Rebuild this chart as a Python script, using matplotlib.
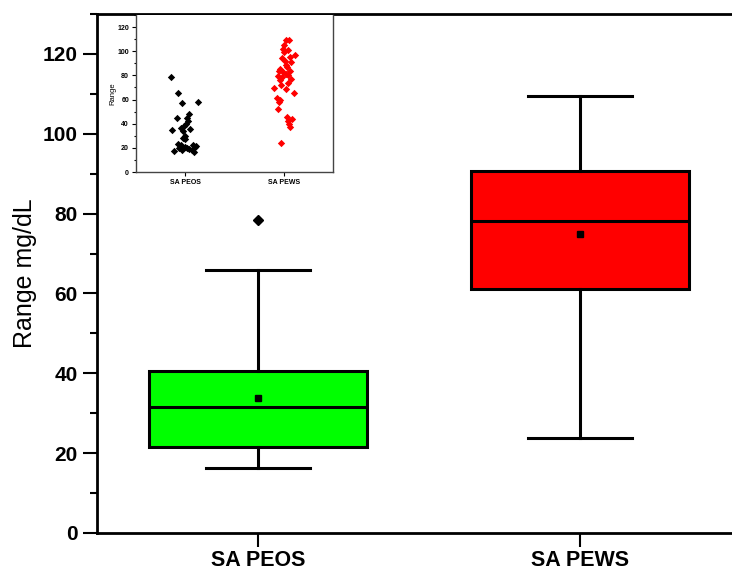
import numpy as np
import matplotlib
matplotlib.use("Agg")
import matplotlib.pyplot as plt
from matplotlib.ticker import MultipleLocator

plt.rcParams['font.family'] = ['Liberation Sans', 'DejaVu Sans']

GROUPS = ["SA PEOS", "SA PEWS"]
BOX_COLORS = ["#00ff00", "#ff0000"]
DOT_COLORS = ["black", "red"]

# box statistics
Q1 = [21.5, 61.2]
MED = [31.6, 78.2]
Q3 = [40.7, 90.6]
WLO = [16.4, 23.7]
WHI = [65.8, 109.4]
MEANS = [33.9, 75.0]
OUTLIERS = [[78.4], []]

# inset scatter points (x position, value)
peos_x = [0.86, 0.93, 0.97, 1.13, 1.04, 1.02, 0.92, 1.03, 1.01, 0.99, 0.96, 1.05, 0.87, 0.98, 1.00,
          0.98, 1.00, 0.93, 0.96, 1.00, 1.08, 1.11, 1.10, 0.94, 1.04, 0.89, 1.07, 1.09, 0.97, 1.02]
peos_y = [78.4, 65.6, 56.8, 58.2, 48.1, 45.0, 44.5, 42.0, 40.0, 38.0, 36.5, 36.0, 34.9, 34.0, 30.0,
          28.0, 27.0, 23.0, 22.5, 21.0, 22.0, 21.5, 20.6, 20.0, 19.0, 17.8, 18.0, 16.4, 18.5, 20.0]
pews_x = [2.02, 2.05, 1.99, 2.11, 1.98, 2.06, 2.00, 2.02, 1.96, 2.06, 1.94, 1.98, 2.07, 2.04, 2.02,
          1.90, 2.10, 1.93, 1.95, 1.94, 2.03, 2.08, 2.05, 2.06, 1.97, 1.96, 1.99, 2.03, 1.95, 2.04,
          2.01, 2.07, 1.97, 2.00, 2.04, 1.96, 2.04, 2.02]
pews_y = [109.4, 109.0, 102.0, 97.0, 94.7, 95.3, 99.0, 89.0, 85.0, 84.0, 79.6, 78.3, 77.0, 74.0, 68.7,
          69.2, 65.0, 61.0, 57.7, 52.2, 45.3, 44.0, 40.0, 37.6, 23.9, 76.0, 82.4, 87.0, 84.0, 80.0,
          92.0, 91.0, 72.0, 105.0, 101.0, 60.0, 42.0, 81.0]

fig = plt.figure(figsize=(7.32, 5.72), dpi=100)
ax = fig.add_axes([0.1325, 0.0682, 0.8798, 0.9073])

stats = []
for i in range(2):
    stats.append(dict(q1=Q1[i], med=MED[i], q3=Q3[i], whislo=WLO[i], whishi=WHI[i],
                      mean=MEANS[i], fliers=OUTLIERS[i], label=GROUPS[i]))

bp = ax.bxp(stats, positions=[1, 2], widths=0.674, patch_artist=True, showmeans=True,
            boxprops=dict(linewidth=2.2, edgecolor="black"),
            medianprops=dict(color="black", linewidth=2.2),
            whiskerprops=dict(color="black", linewidth=2.2),
            capprops=dict(color="black", linewidth=2.2),
            capwidths=0.32,
            meanprops=dict(marker="s", markerfacecolor="black", markeredgecolor="black", markersize=5),
            flierprops=dict(marker="D", markerfacecolor="black", markeredgecolor="black", markersize=5.5))
for patch, c in zip(bp["boxes"], BOX_COLORS):
    patch.set_facecolor(c)

ax.set_xlim(0.5, 2.5)
ax.set_ylim(0, 130)
ax.yaxis.set_major_locator(MultipleLocator(20))
ax.yaxis.set_minor_locator(MultipleLocator(10))
ax.spines["right"].set_visible(False)
for s in ["left", "bottom", "top"]:
    ax.spines[s].set_linewidth(2)
ax.tick_params(axis="both", which="major", direction="out", length=10, width=1.5)
ax.tick_params(axis="y", which="minor", direction="out", length=5, width=1.5)
ax.tick_params(axis="y", labelsize=15, pad=4)
ax.tick_params(axis="x", labelsize=15.5, pad=2)
for lbl in ax.get_yticklabels() + ax.get_xticklabels():
    lbl.set_fontweight("bold")
ax.set_ylabel("Range mg/dL", fontsize=18, labelpad=4)

# inset
ins = fig.add_axes([0.1858, 0.6993, 0.2691, 0.2745])
ins.set_zorder(5)
ins.scatter(peos_x, peos_y, marker="D", s=14, color=DOT_COLORS[0], linewidths=0)
ins.scatter(pews_x, pews_y, marker="D", s=14, color=DOT_COLORS[1], linewidths=0)
ins.set_xlim(0.5, 2.5)
ins.set_ylim(0, 130)
ins.set_xticks([1, 2])
ins.set_xticklabels(GROUPS)
ins.yaxis.set_major_locator(MultipleLocator(20))
ins.yaxis.set_minor_locator(MultipleLocator(10))
ins.spines["top"].set_visible(False)
for s in ["left", "bottom", "right"]:
    ins.spines[s].set_linewidth(1.0)
    ins.spines[s].set_color("#444444")
ins.tick_params(axis="both", which="major", direction="out", length=3, width=0.8, labelsize=5, pad=2)
ins.tick_params(axis="y", which="minor", direction="out", length=1.5, width=0.8)
for lbl in ins.get_yticklabels() + ins.get_xticklabels():
    lbl.set_fontweight("bold")
ins.set_ylabel("Range", fontsize=5.5, labelpad=1)

fig.savefig("out.png", dpi=100)
